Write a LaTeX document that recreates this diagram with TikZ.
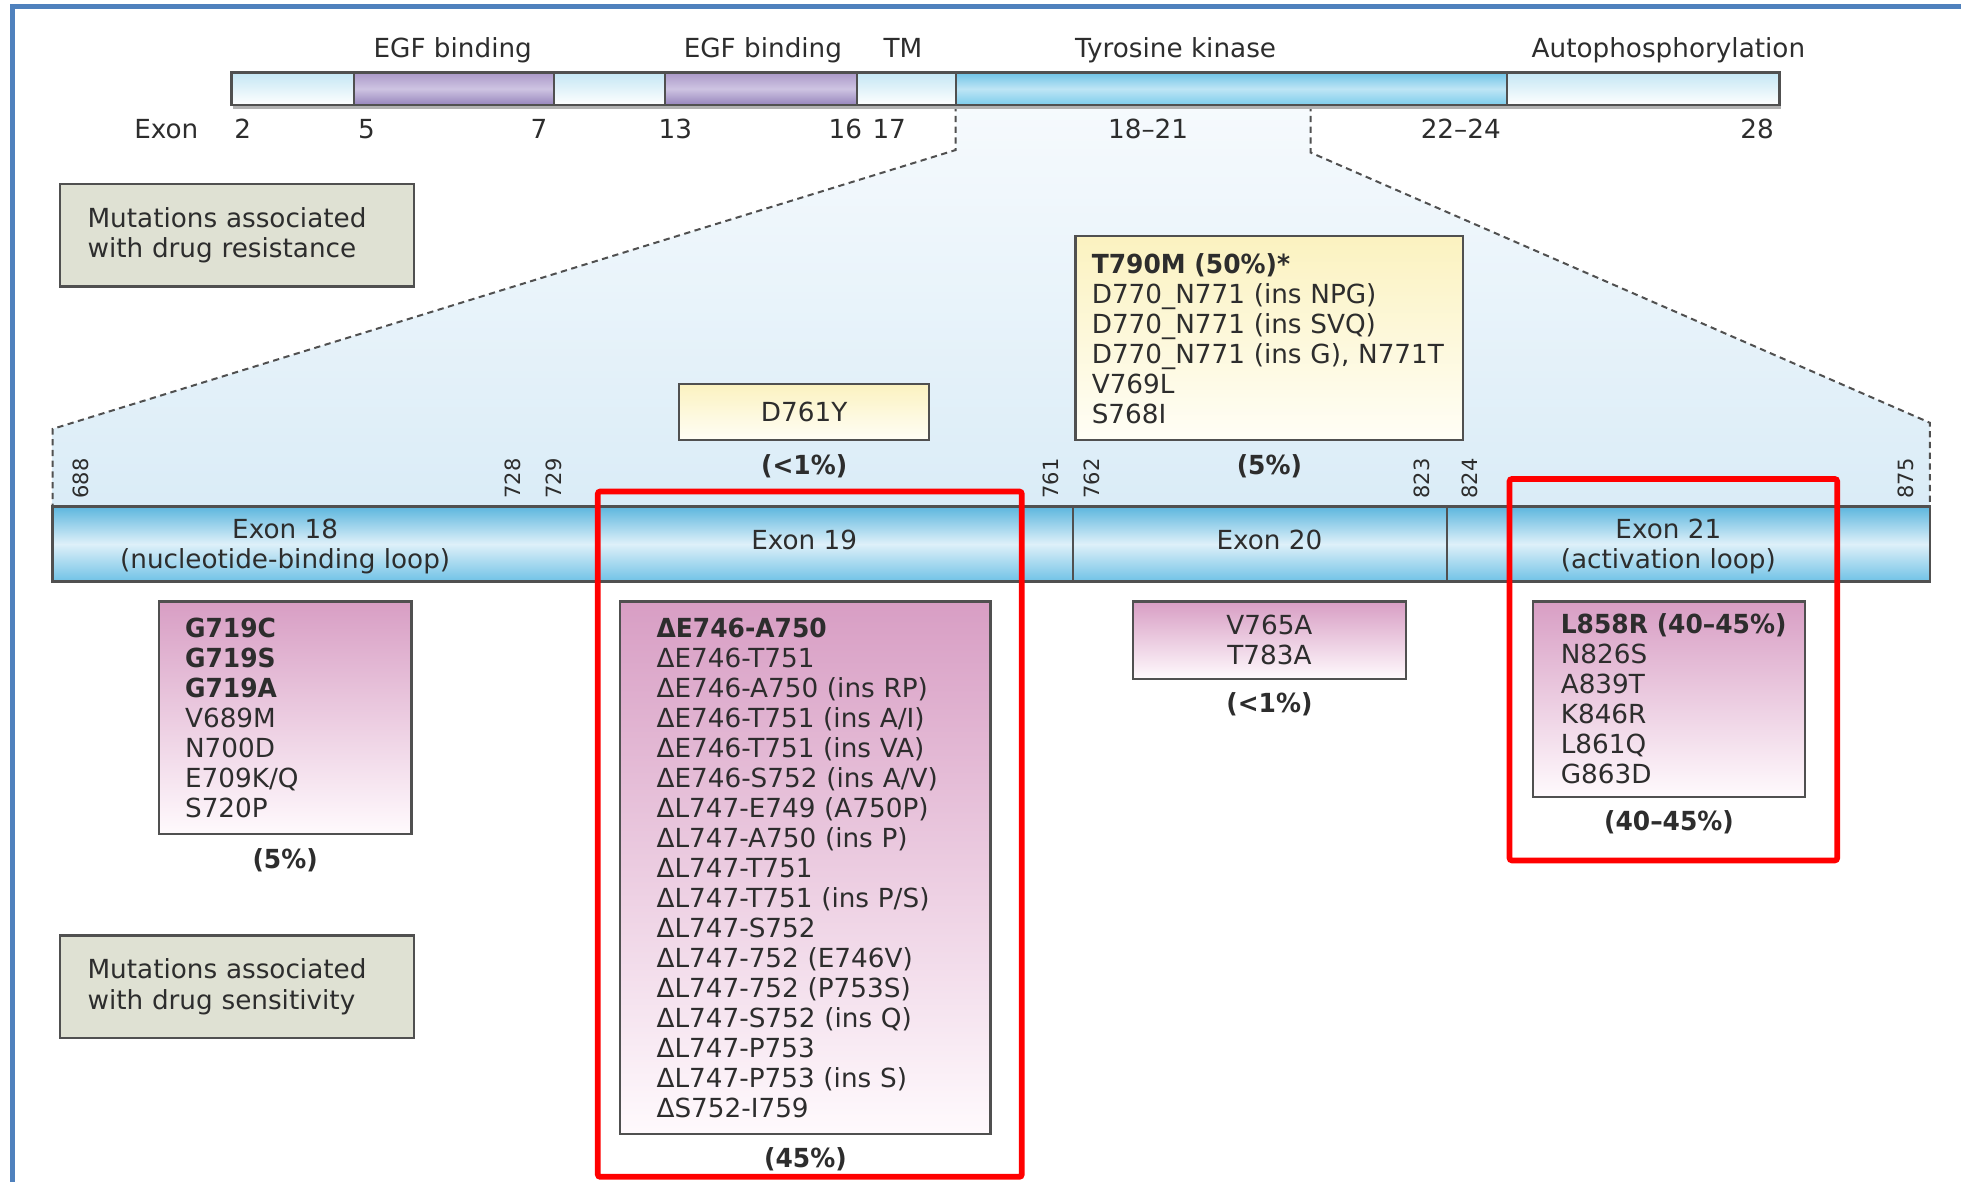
\documentclass[tikz,border=0pt]{standalone}
\usepackage{fontspec}
\setmainfont[BoldFeatures={FakeStretch=0.95}]{DejaVu Sans}
\usepackage{tikz}
\usetikzlibrary{positioning}

\definecolor{framebl}{RGB}{79,129,189}
\definecolor{txtgray}{RGB}{45,45,45}
\definecolor{boxgray}{RGB}{80,80,80}
\definecolor{lightbl}{RGB}{196,230,244}
\definecolor{purptop}{RGB}{170,152,200}
\definecolor{purpmid}{RGB}{206,196,226}
\definecolor{purpbot}{RGB}{150,132,188}
\definecolor{tktop}{RGB}{110,195,230}
\definecolor{tkmid}{RGB}{190,229,245}
\definecolor{tkbot}{RGB}{125,205,236}
\definecolor{bartop}{RGB}{92,182,222}
\definecolor{barmid}{RGB}{222,240,249}
\definecolor{barbot}{RGB}{112,194,230}
\definecolor{pinktop}{RGB}{216,158,196}
\definecolor{pinkbot}{RGB}{255,250,253}
\definecolor{yeltop}{RGB}{251,242,192}
\definecolor{yelbot}{RGB}{255,254,246}
\definecolor{legfill}{RGB}{223,225,211}
\definecolor{traptop}{RGB}{246,250,253}
\definecolor{trapbot}{RGB}{218,236,247}

\newcommand{\lblfont}{\fontsize{10.5}{12}\selectfont}
\newcommand{\posfont}{\fontsize{8.4}{10}\selectfont}

\tikzset{
  lbl/.style={font=\lblfont, text=txtgray, inner sep=0pt, text height=7.7pt, text depth=0pt},
  twoline/.style={font=\lblfont, text=txtgray, inner sep=0pt, align=center},
  pct/.style={lbl, font=\lblfont\bfseries},
  posnum/.style={font=\posfont, text=txtgray, rotate=90, anchor=west, inner sep=0pt},
  mutbox/.style={draw=boxgray, line width=0.9pt, top color=pinktop, bottom color=pinkbot,
    font=\lblfont, text=txtgray, align=left, inner ysep=0pt},
  yelbox/.style={mutbox, top color=yeltop, bottom color=yelbot},
  legbox/.style={draw=boxgray, line width=0.9pt, fill=legfill, font=\lblfont, text=txtgray,
    align=left, inner ysep=0pt},
  seglight/.style={top color=lightbl, bottom color=white},
  segpurp/.style={top color=purptop, bottom color=purpbot, middle color=purpmid},
  segtk/.style={top color=tktop, bottom color=tkbot, middle color=tkmid},
  zoomline/.style={draw=boxgray, line width=0.8pt, dash pattern=on 2.5pt off 1.8pt},
  redframe/.style={draw=red, line width=2.3pt, rounded corners=1pt},
}

\begin{document}
\begin{tikzpicture}[x=0.5pt,y=-0.5pt]
  \useasboundingbox (0,0) rectangle (1568,945);
  \draw[framebl, line width=2pt] (10,945) -- (10,5) -- (1568,5);

  %zoom region under the kinase domain
  \coordinate (tkL) at (764,84);
  \coordinate (tkR) at (1048,84);
  \coordinate (bendL) at (764,120);
  \coordinate (bendR) at (1048,122);
  \coordinate (footL) at (42,343);
  \coordinate (footR) at (1543,338);
  \coordinate (barL) at (42,405);
  \coordinate (barR) at (1543,405);
  \shade[top color=traptop, bottom color=trapbot] (tkL) -- (bendL) -- (footL) -- (barL)
      -- (barR) -- (footR) -- (bendR) -- (tkR) -- cycle;
  \draw[zoomline] (tkL) -- (bendL) -- (footL) -- (barL);
  \draw[zoomline] (tkR) -- (bendR) -- (footR) -- (barR);

  %whole receptor
  \foreach \xa/\xb/\kind in {185/283/light, 283/443/purp, 443/532/light, 532/685/purp,
      685/764/light, 764/1205/tk, 1205/1423/light}
    \shade[seg\kind] (\xa,58) rectangle (\xb,84);
  \draw[gray!60, line width=1.2pt] (186,86) -- (1424,86);
  \draw[boxgray, line width=1pt] (185,58) rectangle (1423,84);
  \foreach \x in {283,443,532,685,764,1205}
    \draw[boxgray, line width=0.8pt] (\x,58) -- (\x,84);

  \node[lbl] (egfA) at (362,38) {EGF binding};
  \node[lbl] (egfB) at (610,38) {EGF binding};
  \node[lbl] (tm) at (722,38) {TM};
  \node[lbl] (tyrk) at (940,38) {Tyrosine kinase};
  \node[lbl] (autop) at (1334,38) {Autophosphorylation};

  \node[lbl] (exonword) at (133,103) {Exon};
  \foreach \x/\t [count=\i] in {194/2, 293/5, 431/7, 540/13, 676/16, 711/17,
      918/18–21, 1168/22–24, 1405/28}
    \node[lbl] (exnum\i) at (\x,103) {\t};

  %kinase domain bar
  \shade[top color=bartop, bottom color=barbot, middle color=barmid] (barL) rectangle (1543,465);
  \draw[boxgray, line width=1pt] (barL) rectangle (1543,465);
  \draw[boxgray, line width=0.8pt] (858,405) -- (858,465);
  \draw[boxgray, line width=0.8pt] (1157,405) -- (1157,465);

  \node[twoline] (ex18) at (228,437) {Exon 18\\(nucleotide-binding loop)};
  \node[lbl] (ex19) at (643,432) {Exon 19};
  \node[lbl] (ex20) at (1015,432) {Exon 20};
  \node[twoline] (ex21) at (1334,437) {Exon 21\\(activation loop)};

  \foreach \x/\n in {65/688, 410/728, 443/729, 840/761, 873/762, 1137/823, 1175/824, 1524/875}
    \node[posnum] (pos\n) at (\x,399) {\n};

  %legend
  \node[legbox, minimum width=141.5pt, minimum height=41pt, text width=119.5pt, inner xsep=11pt]
    (resleg) at (189.5,188) {Mutations associated\\with drug resistance};
  \node[legbox, minimum width=141.5pt, minimum height=41pt, text width=119.5pt, inner xsep=11pt]
    (sensleg) at (189.5,789) {Mutations associated\\with drug sensitivity};

  %resistance mutations
  \node[yelbox, align=center, minimum width=100pt, minimum height=22.5pt] (d761box) at (643,329.5) {D761Y};
  \node[pct, below=5.4pt of d761box] (d761pct) {(<1\%)};
  \node[yelbox, minimum width=155pt, minimum height=81.5pt, text width=142pt, inner xsep=6.5pt]
    (t790box) at (1015,270.5) {\textbf{T790M (50\%)*}\\D770\_N771 (ins NPG)\\D770\_N771 (ins SVQ)\\
      \mbox{D770\_N771 (ins G), N771T}\\V769L\\S768I};
  \node[pct, below=5.4pt of t790box] (t790pct) {(5\%)};

  %sensitivity mutations
  \node[mutbox, minimum width=101pt, minimum height=93pt, text width=80pt, inner xsep=10.5pt]
    (g719box) at (228,574) {\textbf{G719C}\\\textbf{G719S}\\\textbf{G719A}\\V689M\\N700D\\E709K/Q\\S720P};
  \node[pct, below=5.4pt of g719box] (g719pct) {(5\%)};

  \node[mutbox, minimum width=148pt, minimum height=213pt, text width=119pt, inner xsep=14.5pt]
    (delbox) at (644,694) {\textbf{ΔE746-A750}\\ΔE746-T751\\ΔE746-A750 (ins RP)\\ΔE746-T751 (ins A/I)\\
      ΔE746-T751 (ins VA)\\ΔE746-S752 (ins A/V)\\ΔL747-E749 (A750P)\\ΔL747-A750 (ins P)\\
      ΔL747-T751\\ΔL747-T751 (ins P/S)\\ΔL747-S752\\ΔL747-752 (E746V)\\ΔL747-752 (P753S)\\
      ΔL747-S752 (ins Q)\\ΔL747-P753\\ΔL747-P753 (ins S)\\ΔS752-I759};
  \node[pct, below=5pt of delbox] (delpct) {(45\%)};

  \node[mutbox, align=center, minimum width=109pt, minimum height=31pt] (v765box) at (1015,512) {V765A\\T783A};
  \node[pct, below=5pt of v765box] (v765pct) {(<1\%)};

  \node[mutbox, minimum width=108.5pt, minimum height=78pt, text width=86.5pt, inner xsep=11pt]
    (l858box) at (1334.5,559) {\mbox{\textbf{L858R (40–45\%)}}\\N826S\\A839T\\K846R\\L861Q\\G863D};
  \node[pct, below=5pt of l858box] (l858pct) {(40–45\%)};

  %highlight
  \draw[redframe] (478,393) rectangle (817,941);
  \draw[redframe] (1207,383) rectangle (1469,688);
\end{tikzpicture}
\end{document}
